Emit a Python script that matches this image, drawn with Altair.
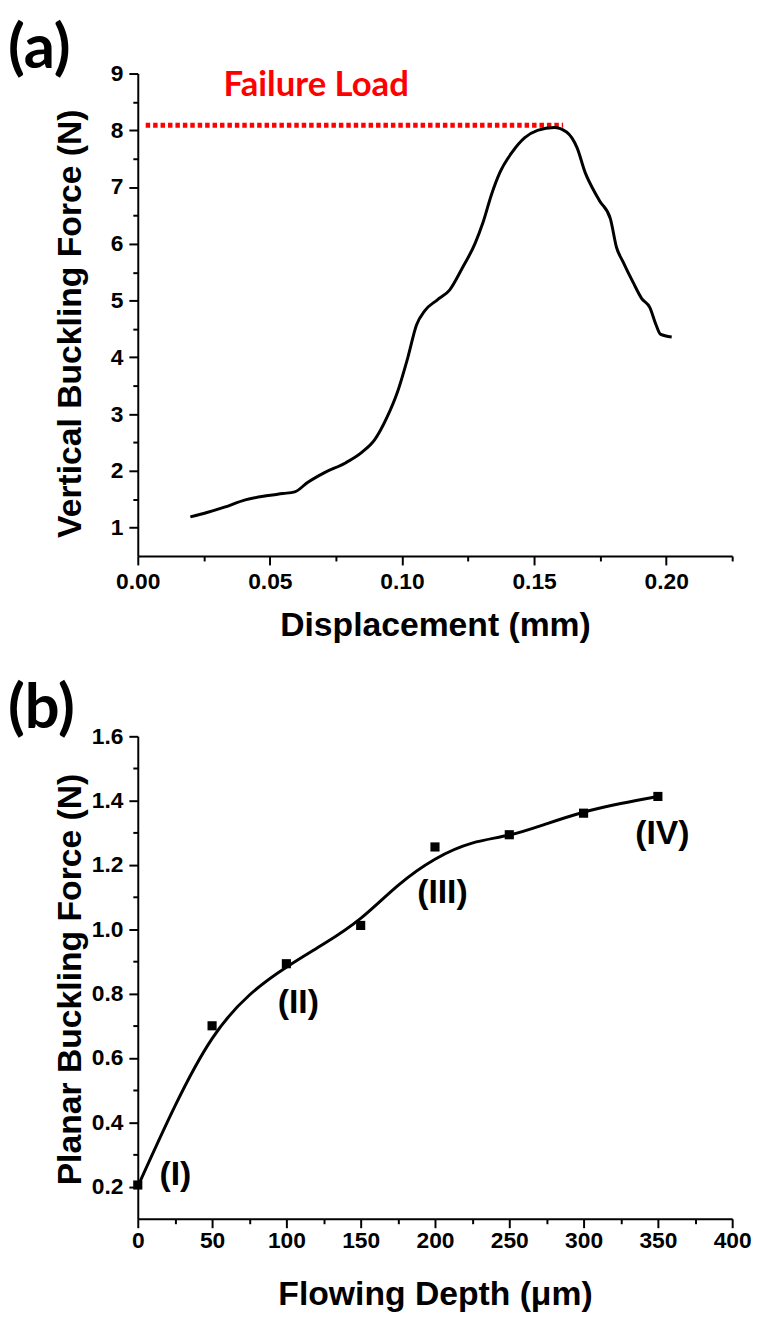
import altair as alt
import pandas as pd

# ---------------- data: panel (a) ----------------
disp_mm = [0.0199, 0.0265, 0.0328, 0.0407, 0.0486, 0.0549, 0.0594, 0.0644, 0.0707, 0.0786,
           0.0849, 0.0897, 0.0944, 0.0983, 0.1023, 0.1055, 0.1086, 0.1133, 0.1181, 0.1228,
           0.1276, 0.1307, 0.1339, 0.1370, 0.1418, 0.1465, 0.1513, 0.1576, 0.1623, 0.1663,
           0.1694, 0.1726, 0.1749, 0.1789, 0.1812, 0.1836, 0.1875, 0.1907, 0.1938, 0.1962,
           0.1978, 0.2021]
force_n = [1.19, 1.27, 1.36, 1.49, 1.56, 1.60, 1.63, 1.80, 1.97, 2.14,
           2.33, 2.55, 2.95, 3.39, 4.01, 4.57, 4.82, 5.01, 5.19, 5.57,
           6.00, 6.38, 6.87, 7.25, 7.62, 7.87, 8.00, 8.05, 7.97, 7.69,
           7.25, 6.94, 6.75, 6.44, 5.94, 5.69, 5.32, 5.04, 4.88, 4.57,
           4.41, 4.36]
fail_x_start = [0.003]
fail_x_end = [0.161]
fail_load = [8.09]
fail_text = ["Failure Load"]
fail_text_x = [0.0675]
fail_text_y = [8.60]

a_x_ticks = [0.0, 0.025, 0.05, 0.075, 0.1, 0.125, 0.15, 0.175, 0.2, 0.225]
a_y_ticks = [1, 1.5, 2, 2.5, 3, 3.5, 4, 4.5, 5, 5.5, 6, 6.5, 7, 7.5, 8, 8.5, 9]

# ---------------- data: panel (b) ----------------
depth_um = [0, 50, 100, 150, 200, 250, 300, 350]
planar_n = [0.205, 0.70, 0.893, 1.012, 1.256, 1.294, 1.361, 1.413]
fit_x = [0, 25, 50, 75, 100, 125, 150, 175, 200, 225, 250, 275, 300, 325, 350]
fit_y = [0.20, 0.45, 0.66, 0.795, 0.882, 0.954, 1.034, 1.136, 1.218, 1.268, 1.293, 1.328, 1.364, 1.391, 1.413]
stage_text = ["(I)", "(II)", "(III)", "(IV)"]
stage_x = [25.3, 108, 205, 353]
stage_y = [0.236, 0.772, 1.111, 1.295]

b_x_ticks = [0, 25, 50, 75, 100, 125, 150, 175, 200, 225, 250, 275, 300, 325, 350, 375, 400]
b_y_ticks = [0.2, 0.3, 0.4, 0.5, 0.6, 0.7, 0.8, 0.9, 1.0, 1.1, 1.2, 1.3, 1.4, 1.5, 1.6]

FONT = "Liberation Sans"
TFONT = "Lato"
W, H = 600, 487


def cond(test, big, small):
    return {"condition": {"test": test, "value": big}, "value": small}


def axis(values, test, fmt, title, **kw):
    return alt.Axis(
        values=values,
        labelExpr=f"({test}) ? format(datum.value, '{fmt}') : ''",
        tickSize=cond(test, 9, 5),
        title=title,
        labelFlush=False,
        labelOverlap=False,
        **kw,
    )


# ---------------- panel (a) ----------------
ax_test = "round(datum.value*1000) % 50 == 0"
ay_test = "datum.value % 1 == 0"
xa = alt.X("x:Q", scale=alt.Scale(domain=[0, 0.225], nice=False, zero=False),
           axis=axis(a_x_ticks, ax_test, ".2f", "Displacement (mm)",
                     labelPadding=6, titleY=80, titleBaseline="alphabetic"))
ya = alt.Y("y:Q", scale=alt.Scale(domain=[0.5, 9], nice=False, zero=False),
           axis=axis(a_y_ticks, ay_test, "d", "Vertical Buckling Force (N)",
                     labelPadding=6, titleX=-68, titleY=252, titleBaseline="middle"))

curve_a = alt.Chart(pd.DataFrame({"x": disp_mm, "y": force_n})).mark_line(
    color="black", strokeWidth=3, interpolate="monotone").encode(x=xa, y=ya)
fail_rule = alt.Chart(pd.DataFrame({"x": fail_x_start, "x2": fail_x_end, "y": fail_load})).mark_rule(
    color="#ff0000", strokeWidth=5, strokeDash=[4.5, 3]).encode(x=xa, x2="x2:Q", y=ya)
fail_lbl = alt.Chart(pd.DataFrame({"x": fail_text_x, "y": fail_text_y, "t": fail_text})).mark_text(
    color="#ff0000", font=TFONT, fontWeight="bold", fontSize=35, align="center",
    baseline="alphabetic").encode(x=xa, y=ya, text="t:N")

panel_a = alt.layer(fail_rule, curve_a, fail_lbl).properties(
    width=W, height=H,
    title=alt.TitleParams("(a)", anchor="start", frame="group", dx=-131, offset=-18,
                          fontSize=62, font=TFONT, fontWeight="bold", color="black"))

# ---------------- panel (b) ----------------
bx_test = "datum.value % 50 == 0"
by_test = "round(datum.value*10) % 2 == 0"
xb = alt.X("x:Q", scale=alt.Scale(domain=[0, 400], nice=False, zero=False),
           axis=axis(b_x_ticks, bx_test, "d", "Flowing Depth (\u03bcm)",
                     labelPadding=2, titleY=87, titleBaseline="alphabetic"))
yb = alt.Y("y:Q", scale=alt.Scale(domain=[0.1, 1.6], nice=False, zero=False),
           axis=axis(b_y_ticks, by_test, ".1f", "Planar Buckling Force (N)",
                     labelPadding=6, titleX=-68, titleY=245, titleBaseline="middle"))

fit_b = alt.Chart(pd.DataFrame({"x": fit_x, "y": fit_y})).mark_line(
    color="black", strokeWidth=3, interpolate="natural").encode(x=xb, y=yb)
pts_b = alt.Chart(pd.DataFrame({"x": depth_um, "y": planar_n})).mark_point(
    shape="square", filled=True, size=85, color="black", opacity=1).encode(x=xb, y=yb)
stage_lbl = alt.Chart(pd.DataFrame({"x": stage_x, "y": stage_y, "t": stage_text})).mark_text(
    color="black", font=FONT, fontWeight="bold", fontSize=34, align="center",
    baseline="middle").encode(x=xb, y=yb, text="t:N")

panel_b = alt.layer(fit_b, pts_b, stage_lbl).properties(
    width=W, height=H,
    title=alt.TitleParams("(b)", anchor="start", frame="group", dx=-131, offset=-16,
                          fontSize=62, font=TFONT, fontWeight="bold", color="black"))

chart = alt.vconcat(panel_a, panel_b, spacing=37).properties(
    padding={"left": 0, "top": 4, "right": 0, "bottom": 0}
).configure_view(stroke=None).configure_axis(
    grid=False,
    domainColor="black", domainWidth=2,
    tickColor="black", tickWidth=2,
    labelFont=FONT, labelFontWeight="bold", labelFontSize=23, labelColor="black",
    titleFont=FONT, titleFontWeight="bold", titleFontSize=34, titleColor="black",
)

chart.save("out.html", embed_options={"renderer": "svg", "actions": False})
